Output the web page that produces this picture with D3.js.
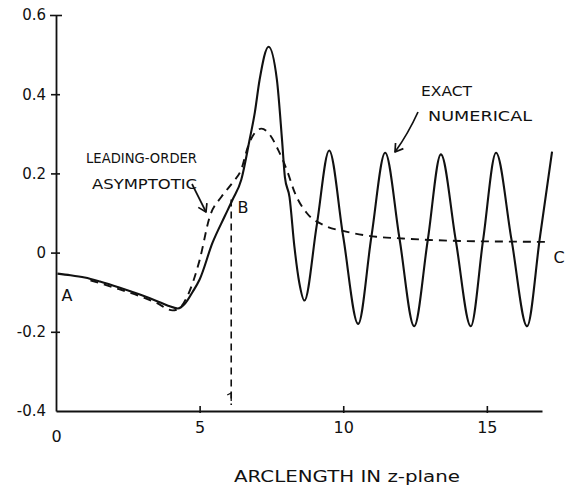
<!DOCTYPE html>
<html>
<head>
<meta charset="utf-8">
<script src="https://cdn.jsdelivr.net/npm/d3@7"></script>
<style>
  body { margin: 0; background: #fff; }
  svg { display: block; }
  text { font-family: "DejaVu Sans", sans-serif; fill: #111; }
</style>
</head>
<body>
<svg id="chart" width="568" height="488"></svg>
<script>
// values
const xTicks = [0, 5, 10, 15];
const yTicks = [-0.4, -0.2, 0, 0.2, 0.4, 0.6];
const yTickLabels = ['-0.4', '-0.2', '0', '0.2', '0.4', '0.6'];

// exact numerical solution (solid)
const exactX = [0.05, 0.5, 1.0, 1.53, 2.2, 2.92, 3.5, 3.9, 4.24, 4.5, 4.75, 5.0, 5.45, 5.87, 6.15, 6.45, 6.74, 6.92, 7.09, 7.4, 7.69, 7.87, 7.97, 8.13, 8.3, 8.47, 8.65,
  9.08, 9.51, 10.0, 10.52, 10.98, 11.46, 11.96, 12.47, 12.94, 13.4, 13.92, 14.44, 14.87, 15.32, 15.86, 16.4, 16.85, 17.27];
const exactY = [-0.053, -0.057, -0.063, -0.073, -0.088, -0.106, -0.122, -0.134, -0.141, -0.128, -0.1, -0.068, 0.025, 0.091, 0.134, 0.184, 0.285, 0.353, 0.437, 0.52, 0.437, 0.284, 0.19, 0.14, 0.015, -0.076, -0.121,
  0.07, 0.258, 0.04, -0.18, 0.04, 0.252, 0.035, -0.186, 0.03, 0.248, 0.03, -0.186, 0.032, 0.252, 0.032, -0.186, 0.04, 0.255];

// leading-order asymptotic (dashed)
const asymX = [1.2, 2.0, 2.92, 3.5, 4.06, 4.3, 4.56, 5.0, 5.35, 5.76, 6.15, 6.45, 6.68, 6.95, 7.15, 7.45, 7.73, 8.04, 8.32, 8.73, 9.3, 10.1, 11.15, 12.0, 13.0, 14.3, 15.5, 17.05];
const asymY = [-0.07, -0.088, -0.11, -0.127, -0.146, -0.14, -0.112, -0.019, 0.09, 0.141, 0.177, 0.21, 0.267, 0.305, 0.313, 0.297, 0.26, 0.208, 0.15, 0.1, 0.07, 0.053, 0.04, 0.036, 0.032, 0.029, 0.028, 0.027];

const pointB = { x: 6.1, y: 0.134 };

const svg = d3.select('#chart');

const x = d3.scaleLinear().domain([0, 16.92]).range([56, 542]);
const y = d3.scaleLinear().domain([-0.4, 0.6]).range([411, 15]);

// y axis
const yAxis = d3.axisLeft(y).tickValues(yTicks).tickSizeOuter(0)
  .tickFormat((d, i) => yTickLabels[i]);
const gy = svg.append('g').attr('transform', `translate(${x(0)},0)`).call(yAxis);
gy.select('.domain').attr('stroke', '#111').attr('stroke-width', 1.8);
gy.selectAll('.tick line').attr('stroke', '#111').attr('stroke-width', 1.6)
  .attr('x1', 4).attr('x2', -5)
  .filter(d => d === -0.4).remove();
gy.selectAll('.tick').filter(d => d === 0.6).select('line').attr('x1', 6).attr('x2', -6);
gy.selectAll('.tick text').attr('x', -10).attr('font-size', 15)
  .style('font-family', '"DejaVu Sans", sans-serif').attr('fill', '#111');

// x axis
const xAxis = d3.axisBottom(x).tickValues(xTicks).tickSizeOuter(0).tickFormat(d3.format('d'));
const gx = svg.append('g').attr('transform', `translate(0,${y(-0.4)})`).call(xAxis);
gx.select('.domain').attr('stroke', '#111').attr('stroke-width', 1.8);
gx.selectAll('.tick line').attr('stroke', '#111').attr('stroke-width', 1.6)
  .attr('y1', 2).attr('y2', -5)
  .filter(d => d === 0).remove();
gx.selectAll('.tick text').attr('font-size', 16).attr('y', d => d === 0 ? 20 : 11)
  .style('font-family', '"DejaVu Sans", sans-serif').attr('fill', '#111');

// curves
const line = d3.line().x(d => x(d[0])).y(d => y(d[1])).curve(d3.curveMonotoneX);

svg.append('path')
  .datum(asymX.map((v, i) => [v, asymY[i]]))
  .attr('d', line)
  .attr('fill', 'none').attr('stroke', '#111').attr('stroke-width', 1.9)
  .attr('stroke-dasharray', '8,6');

svg.append('path')
  .datum(exactX.map((v, i) => [v, exactY[i]]))
  .attr('d', line)
  .attr('fill', 'none').attr('stroke', '#111').attr('stroke-width', 2.1)
  .attr('stroke-linejoin', 'round');

// dashed drop line from B
svg.append('line')
  .attr('x1', x(pointB.x)).attr('x2', x(pointB.x))
  .attr('y1', y(pointB.y)).attr('y2', y(-0.4) - 6)
  .attr('stroke', '#111').attr('stroke-width', 1.6).attr('stroke-dasharray', '7,5');
svg.append('path')
  .attr('d', `M${x(pointB.x) - 4},${y(-0.4) - 16}L${x(pointB.x)},${y(-0.4) - 18}V${y(-0.4) - 10}`)
  .attr('fill', 'none').attr('stroke', '#111').attr('stroke-width', 1.3);

// point labels
svg.append('text').attr('x', 67).attr('y', 301).attr('text-anchor', 'middle').attr('font-size', 16).text('A');
svg.append('text').attr('x', 243).attr('y', 213).attr('text-anchor', 'middle').attr('font-size', 16).text('B');
svg.append('text').attr('x', 559).attr('y', 263).attr('text-anchor', 'middle').attr('font-size', 16).text('C');

// annotations
const note = (txt, x0, yb, w, size) => svg.append('text')
  .attr('x', x0).attr('y', yb).attr('font-size', size)
  .attr('textLength', w).attr('lengthAdjust', 'spacingAndGlyphs').text(txt);

note('LEADING-ORDER', 86, 163, 111, 14);
note('ASYMPTOTIC', 92, 189, 105, 14);
note('EXACT', 421, 96, 51, 14);
note('NUMERICAL', 428, 121, 104, 14);
note('ARCLENGTH IN z-plane', 234, 482, 226, 16);

// arrows
const arrow = (d, tip, ang) => {
  svg.append('path').attr('d', d).attr('fill', 'none').attr('stroke', '#111').attr('stroke-width', 1.7);
  const a1 = ang + Math.PI * 0.82, a2 = ang - Math.PI * 0.82, L = 9;
  svg.append('path')
    .attr('d', `M${tip[0] + L * Math.cos(a1)},${tip[1] + L * Math.sin(a1)}L${tip[0]},${tip[1]}L${tip[0] + L * Math.cos(a2)},${tip[1] + L * Math.sin(a2)}`)
    .attr('fill', 'none').attr('stroke', '#111').attr('stroke-width', 1.7).attr('stroke-linejoin', 'round');
};
arrow('M192,184L206,212', [206, 212], Math.atan2(28, 14));
arrow('M418,112Q408,134 395,152', [395, 152], Math.atan2(18, -13));
</script>
</body>
</html>
